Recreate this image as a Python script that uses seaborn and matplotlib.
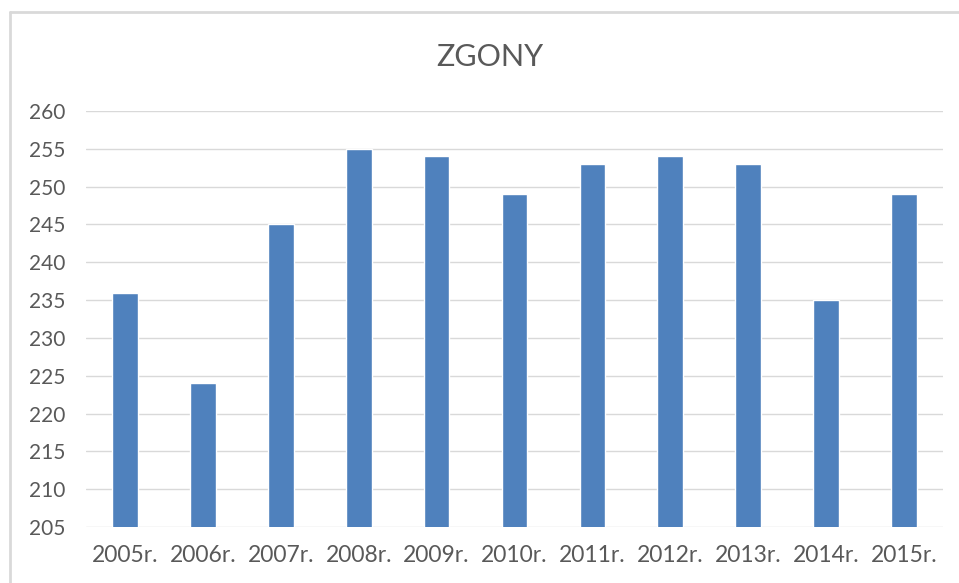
import matplotlib
matplotlib.use("Agg")
import matplotlib.pyplot as plt
import seaborn as sns
import pandas as pd
from matplotlib.lines import Line2D

years = ["2005r.", "2006r.", "2007r.", "2008r.", "2009r.", "2010r.",
         "2011r.", "2012r.", "2013r.", "2014r.", "2015r."]
deaths = [236, 224, 245, 255, 254, 249, 253, 254, 253, 235, 249]
yticks = list(range(205, 261, 5))

df = pd.DataFrame({"rok": years, "zgony": deaths})

sns.set_theme(style="white")
plt.rcParams["font.family"] = ["Lato", "DejaVu Sans"]

fig = plt.figure(figsize=(9.59, 5.83), dpi=100)
ax = fig.add_axes([0.0897, 0.0961, 0.8936, 0.7135])

sns.barplot(data=df, x="rok", y="zgony", color="#4f81bd", width=0.33,
            saturation=1, ax=ax, zorder=2)

ax.set_ylim(205, 260)
ax.set_yticks(yticks)
ax.set_xlim(-0.5, len(years) - 0.5)
ax.yaxis.grid(True, color="#d9d9d9", linewidth=1, zorder=0)
ax.set_axisbelow(True)
for s in ax.spines.values():
    s.set_visible(False)
ax.tick_params(axis="both", length=0, labelcolor="#595959")
ax.tick_params(axis="y", pad=15, labelsize=15)
ax.tick_params(axis="x", pad=13, labelsize=16.5)
ax.set_xlabel("")
ax.set_ylabel("")

fig.text(0.511, 0.902, "ZGONY", ha="center", va="center", fontsize=22, color="#595959")

# ramka wykresu (widoczna tylko gora i lewa strona)
fig.add_artist(Line2D([10 / 959, 1], [1 - 12 / 583, 1 - 12 / 583], color="#d9d9d9", linewidth=2))
fig.add_artist(Line2D([10 / 959, 10 / 959], [0, 1 - 12 / 583], color="#d9d9d9", linewidth=2))

fig.savefig("out.png", dpi=100, facecolor="white")
